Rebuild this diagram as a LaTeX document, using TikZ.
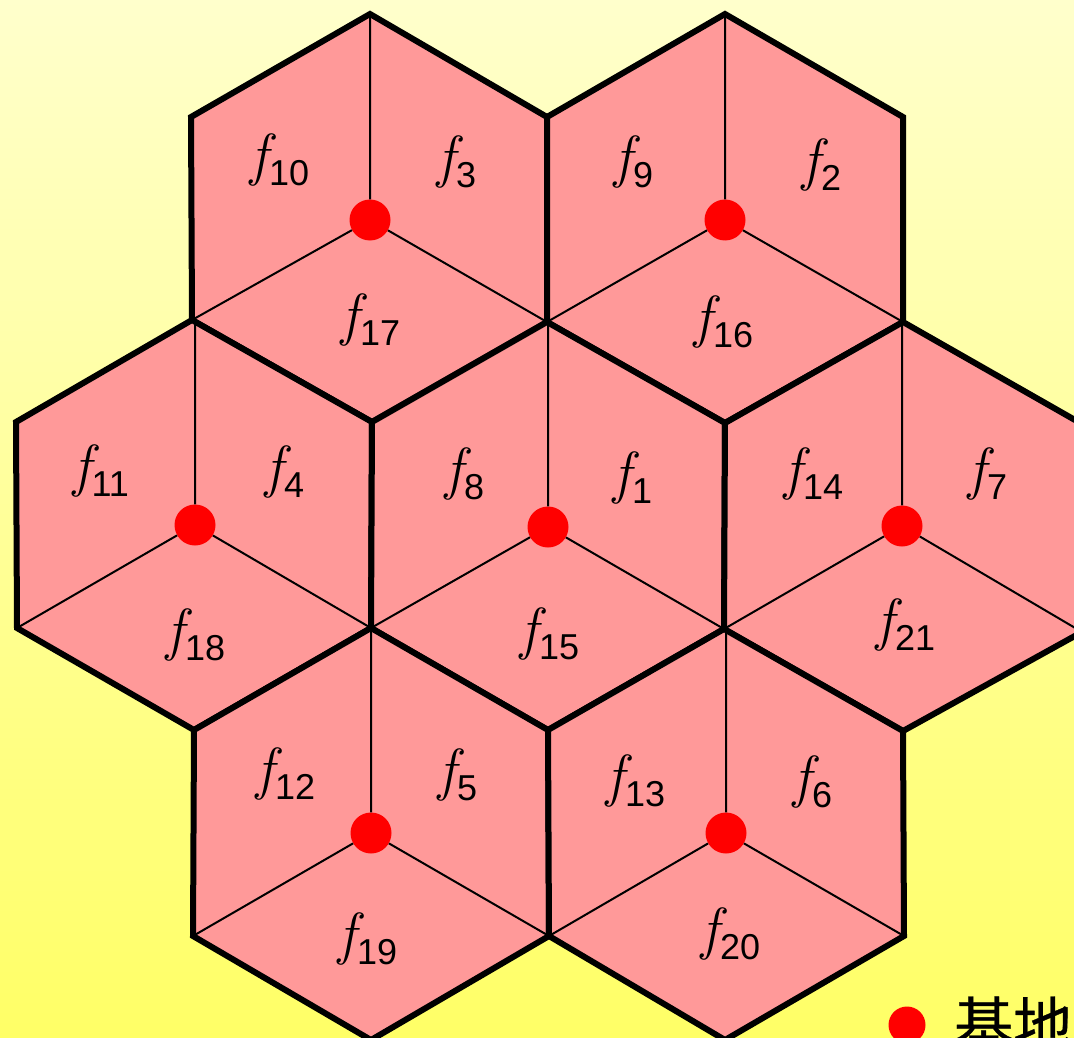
\documentclass[tikz,border=0pt]{standalone}
\usepackage{fontspec}
\setmainfont{Liberation Sans}
\newfontfamily\cjkfont[FakeBold=0.6]{Noto Sans CJK JP}
\newcommand{\flab}[1]{{\fontfamily{lmr}\fontsize{58}{58}\selectfont\itshape f}\kern1pt{\fontsize{36}{36}\selectfont\raisebox{-11pt}{#1}}}
\definecolor{bgtop}{RGB}{255,255,204}
\definecolor{bgbot}{RGB}{255,255,102}
\definecolor{pinkfill}{RGB}{255,153,153}
\tikzset{
  hexa/.style={draw=black,line width=6pt,fill=pinkfill,line join=miter},
  spoke/.style={draw=black,line width=2pt},
  base/.style={circle,fill=red,inner sep=0pt,minimum size=41pt},
  flabel/.style={inner sep=0pt,anchor=center,text=black}
}
\begin{document}
\begin{tikzpicture}[x=1pt,y=-1pt]
\useasboundingbox (0,0) rectangle (1074,1038);
\clip (0,0) rectangle (1074,1038);
\fill[top color=bgtop,bottom color=bgbot] (0,0) rectangle (1074,1038);
% shared vertices
\foreach \n/\x/\y in {
 a/370/14, b/547/117, c/547/322, d/372/422, e/192/320, g/191/117,
 h/725/14, i/903/117, j/903/322, k/725/423,
 l/371/628, m/194/730, n/17/628, o/16/422,
 p/724/629, q/548/730,
 r/1082/424, s/1082/632, t/903/731,
 u/549/936, v/371/1040, w/193/936,
 x/904/936, y/725/1040}
 {\coordinate (\n) at (\x,\y);}
% hexagons
\draw[hexa] (a)--(b)--(c)--(d)--(e)--(g)--cycle;
\draw[hexa] (h)--(i)--(j)--(k)--(c)--(b)--cycle;
\draw[hexa] (e)--(d)--(l)--(m)--(n)--(o)--cycle;
\draw[hexa] (c)--(k)--(p)--(q)--(l)--(d)--cycle;
\draw[hexa] (j)--(r)--(s)--(t)--(p)--(k)--cycle;
\draw[hexa] (l)--(q)--(u)--(v)--(w)--(m)--cycle;
\draw[hexa] (p)--(t)--(x)--(y)--(u)--(q)--cycle;
% base stations
\node[base] (A) at (370,220) {};
\node[base] (B) at (725,220) {};
\node[base] (C) at (195,525) {};
\node[base] (D) at (548,527) {};
\node[base] (E) at (902,526) {};
\node[base] (F) at (371,833) {};
\node[base] (G) at (726,833) {};
% spokes (vertical ones run straight up from the base to the hexagon's top edge)
\draw[spoke] (A)--(A |- a) (A)--(e) (A)--(c);
\draw[spoke] (B)--(B |- h) (B)--(c) (B)--(j);
\draw[spoke] (C)--(C |- e) (C)--(n) (C)--(l);
\draw[spoke] (D)--(D |- c) (D)--(l) (D)--(p);
\draw[spoke] (E)--(E |- j) (E)--(p) (E)--(s);
\draw[spoke] (F)--(F |- l) (F)--(w) (F)--(u);
\draw[spoke] (G)--(G |- p) (G)--(u) (G)--(x);
% labels
\foreach \nm/\x/\y/\t in {
 l1/633/478/1, l2/822/165/2, l3/457/162/3, l4/285/472/4, l5/458/775/5, l6/813/782/6, l7/988/474/7,
 l8/465/474/8, l9/634/162/9, l10/280/160/10, l11/101/471/11, l12/286/774/12, l13/636/781/13, l14/814/474/14,
 l15/550/634/15, l16/724/322/16, l17/371/320/17, l18/196/635/18, l19/368/939/19, l20/731/934/20, l21/906/625/21}
 {\node[flabel] (\nm) at (\x,\y) {\flab{\t}};}
% legend
\node[base,minimum size=37pt] (key) at (907,1025) {};
\node[inner sep=0pt,anchor=west,text=black] (keytext) at (954,1023) {\cjkfont\fontsize{59}{59}\selectfont 基地};
\end{tikzpicture}
\end{document}
